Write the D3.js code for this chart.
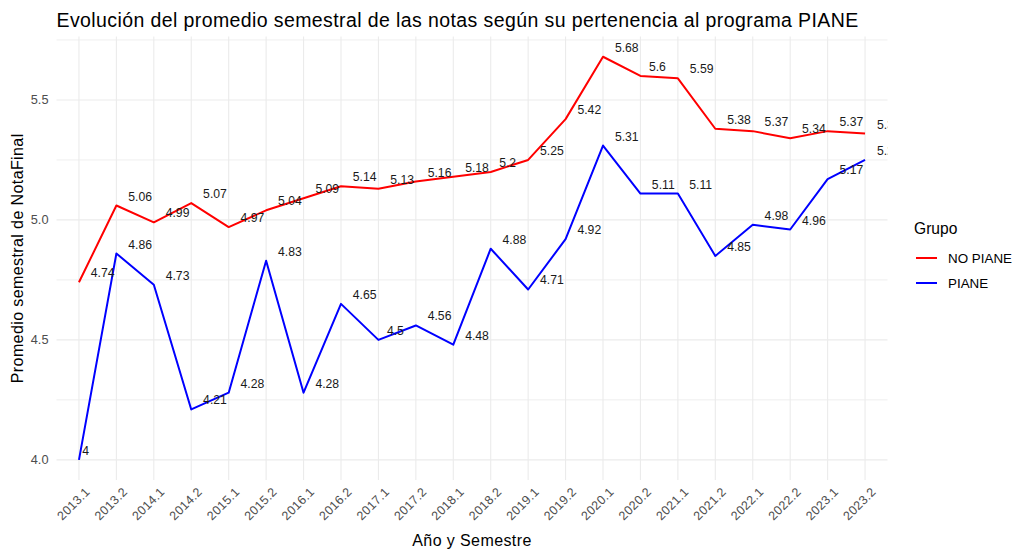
<!DOCTYPE html>
<html>
<head>
<meta charset="utf-8">
<script src="https://cdn.jsdelivr.net/npm/d3@7"></script>
<style>
  body { margin: 0; background: #fff; }
  text { font-family: "Liberation Sans", Arial, sans-serif; }
</style>
</head>
<body>
<div id="chart"></div>
<script>
  // semesters on the x axis
  const semesters = ["2013.1", "2013.2", "2014.1", "2014.2", "2015.1", "2015.2", "2016.1", "2016.2",
    "2017.1", "2017.2", "2018.1", "2018.2", "2019.1", "2019.2", "2020.1", "2020.2",
    "2021.1", "2021.2", "2022.1", "2022.2", "2023.1", "2023.2"];

  // average grade per semester for each group
  const noPiane = [4.74, 5.06, 4.99, 5.07, 4.97, 5.04, 5.09, 5.14, 5.13, 5.16, 5.18,
    5.2, 5.25, 5.42, 5.68, 5.6, 5.59, 5.38, 5.37, 5.34, 5.37, 5.36];
  const piane = [4, 4.86, 4.73, 4.21, 4.28, 4.83, 4.28, 4.65, 4.5, 4.56, 4.48,
    4.88, 4.71, 4.92, 5.31, 5.11, 5.11, 4.85, 4.98, 4.96, 5.17, 5.25];

  const groups = ["NO PIANE", "PIANE"];
  const yTicks = [4.0, 4.5, 5.0, 5.5];
  const yMinor = [4.25, 4.75, 5.25, 5.75];

  const width = 1014, height = 552;
  const margin = { top: 36.6, right: 126.5, bottom: 72, left: 56.5 };

  const color = d3.scaleOrdinal().domain(groups).range(["#ff0000", "#0000ff"]);

  const series = [
    { name: "NO PIANE", values: noPiane.map((v, i) => ({ sem: semesters[i], val: v })) },
    { name: "PIANE", values: piane.map((v, i) => ({ sem: semesters[i], val: v })) }
  ];

  const svg = d3.select("#chart").append("svg")
    .attr("width", width)
    .attr("height", height);

  // x scale, discrete with ggplot-like padding
  const x = d3.scalePoint()
    .domain(semesters)
    .range([margin.left, width - margin.right])
    .padding(0.6);

  // y scale with 5% expansion
  const allVals = noPiane.concat(piane);
  const yMin = d3.min(allVals), yMax = d3.max(allVals);
  const pad = (yMax - yMin) * 0.05;
  const y = d3.scaleLinear()
    .domain([yMin - pad, yMax + pad])
    .range([height - margin.bottom, margin.top]);

  // grid lines
  const grid = svg.append("g");
  grid.selectAll(".minor").data(yMinor).enter().append("line")
    .attr("x1", margin.left).attr("x2", width - margin.right)
    .attr("y1", d => y(d)).attr("y2", d => y(d))
    .attr("stroke", "#ebebeb").attr("stroke-width", 0.8);
  grid.selectAll(".major").data(yTicks).enter().append("line")
    .attr("x1", margin.left).attr("x2", width - margin.right)
    .attr("y1", d => y(d)).attr("y2", d => y(d))
    .attr("stroke", "#ebebeb").attr("stroke-width", 1.1);
  grid.selectAll(".vert").data(semesters).enter().append("line")
    .attr("x1", d => x(d)).attr("x2", d => x(d))
    .attr("y1", margin.top).attr("y2", height - margin.bottom)
    .attr("stroke", "#ebebeb").attr("stroke-width", 1.1);

  // y axis labels
  svg.append("g").selectAll("text").data(yTicks).enter().append("text")
    .attr("x", margin.left - 8)
    .attr("y", d => y(d))
    .attr("dy", "0.35em")
    .attr("text-anchor", "end")
    .attr("font-size", 12.8)
    .attr("fill", "#4d4d4d")
    .text(d => d.toFixed(1));

  // x axis labels, rotated 45 degrees
  svg.append("g").selectAll("text").data(semesters).enter().append("text")
    .attr("text-anchor", "end")
    .attr("transform", d => `translate(${x(d) + 5},${height - margin.bottom + 6}) rotate(-45)`)
    .attr("dy", "0.75em")
    .attr("font-size", 12.5)
    .attr("letter-spacing", 0.3)
    .attr("fill", "#4d4d4d")
    .text(d => d);

  // clip to the panel like ggplot does
  svg.append("clipPath").attr("id", "panel")
    .append("rect")
    .attr("x", margin.left).attr("y", margin.top)
    .attr("width", width - margin.left - margin.right)
    .attr("height", height - margin.top - margin.bottom);

  const panel = svg.append("g").attr("clip-path", "url(#panel)");

  const line = d3.line()
    .x(d => x(d.sem))
    .y(d => y(d.val));

  panel.selectAll(".grupoLine").data(series).enter().append("path")
    .attr("fill", "none")
    .attr("stroke", d => color(d.name))
    .attr("stroke-width", 2)
    .attr("stroke-linejoin", "round")
    .attr("d", d => line(d.values));

  // value labels, nudged right and up (hjust = -0.5, vjust = -0.5)
  series.forEach(function(s) {
    panel.selectAll(null).data(s.values).enter().append("text")
      .attr("font-size", 12.2)
      .attr("fill", "#1a1a1a")
      .attr("y", d => y(d.val) - 5)
      .text(d => String(d.val))
      .attr("x", function(d) {
        return x(d.sem) + this.getComputedTextLength() / 2;
      });
  });

  // title
  svg.append("text")
    .attr("x", margin.left)
    .attr("y", 26.5)
    .attr("font-size", 19.5)
    .attr("letter-spacing", 0.4)
    .attr("fill", "#000")
    .text("Evolución del promedio semestral de las notas según su pertenencia al programa PIANE");

  // axis titles
  svg.append("text")
    .attr("x", (margin.left + width - margin.right) / 2)
    .attr("y", 546)
    .attr("text-anchor", "middle")
    .attr("font-size", 16)
    .attr("letter-spacing", 0.4)
    .attr("fill", "#000")
    .text("Año y Semestre");

  svg.append("text")
    .attr("transform", `translate(23,${(margin.top + height - margin.bottom) / 2}) rotate(-90)`)
    .attr("text-anchor", "middle")
    .attr("font-size", 16)
    .attr("letter-spacing", 0.4)
    .attr("fill", "#000")
    .text("Promedio semestral de NotaFinal");

  // legend
  const legend = svg.append("g").attr("transform", "translate(914,0)");
  legend.append("text")
    .attr("x", 0).attr("y", 234)
    .attr("font-size", 15.6)
    .attr("fill", "#000")
    .text("Grupo");

  const items = legend.selectAll(".item").data(groups).enter().append("g")
    .attr("transform", (d, i) => `translate(0,${258 + i * 25})`);
  items.append("line")
    .attr("x1", 2).attr("x2", 23)
    .attr("stroke", d => color(d))
    .attr("stroke-width", 2);
  items.append("text")
    .attr("x", 34).attr("dy", "0.35em")
    .attr("font-size", 13.4)
    .attr("fill", "#000")
    .text(d => d);
</script>
</body>
</html>
